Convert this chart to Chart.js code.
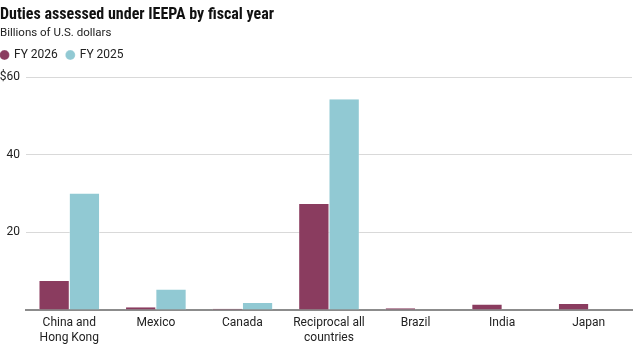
<!DOCTYPE html>
<html>
<head>
<meta charset="utf-8">
<script src="https://cdn.jsdelivr.net/npm/chart.js@4"></script>
<style>
  html, body { margin: 0; padding: 0; background: #fff; }
  #wrap { width: 640px; height: 347px; position: relative; }
</style>
</head>
<body>
<div id="wrap"><canvas id="chart"></canvas></div>
<script>
const categories = [
  ["China and", "Hong Kong"],
  "Mexico",
  "Canada",
  ["Reciprocal all", "countries"],
  "Brazil",
  "India",
  "Japan"
]
const fy2026 = [7.5, 0.7, 0.35, 27.3, 0.45, 1.4, 1.55]
const fy2025 = [30.0, 5.3, 1.8, 54.3, 0.1, 0.1, 0.1]
const yTicks = [0, 20, 40, 60]

const font = "Roboto, 'Noto Sans', sans-serif"
const titleFont = "'Liberation Sans Narrow', 'Roboto Condensed', 'DejaVu Sans Condensed', Roboto, sans-serif"

// легенда: чуть левее к краю и немного воздуха снизу
const legendTweak = {
  id: "legendTweak",
  beforeInit(chart) {
    const fit = chart.legend.fit
    chart.legend.fit = function () { fit.bind(this)(); this.height += 6 }
  },
  afterLayout(chart) {
    chart.legend.left -= 8
    chart.legend.right -= 8
  }
}

new Chart(document.getElementById("chart").getContext("2d"), {
  type: "bar",
  data: {
    labels: categories,
    datasets: [
      { label: "FY 2026", data: fy2026, backgroundColor: "#8a3c5f",
        borderColor: "#ffffff", borderWidth: { left: 0.5, right: 0.5 },
        barPercentage: 1, categoryPercentage: 0.7 },
      { label: "FY 2025", data: fy2025, backgroundColor: "#91c9d3",
        borderColor: "#ffffff", borderWidth: { left: 0.5, right: 0.5 },
        barPercentage: 1, categoryPercentage: 0.7 }
    ]
  },
  options: {
    responsive: true,
    maintainAspectRatio: false,
    animation: false,
    layout: { padding: { left: 0, right: 8, top: 3, bottom: 0 } },
    scales: {
      x: {
        afterFit: axis => { axis.height = 37 },
        grid: { display: false, drawTicks: false },
        border: { color: "#8c8c8c", width: 2 },
        ticks: { color: "#222", font: { family: font, size: 12, lineHeight: 1.25 }, padding: 5,
          maxRotation: 0, autoSkip: false }
      },
      y: {
        min: 0, max: 60,
        afterFit: axis => { axis.width = 26 },
        afterBuildTicks: axis => { axis.ticks = yTicks.map(v => ({ value: v })) },
        grid: { color: "#d9d9d9", lineWidth: 1, drawTicks: false },
        border: { display: false },
        ticks: {
          color: "#222", font: { family: font, size: 12 }, padding: 6,
          callback: v => v === 0 ? "" : (v === 60 ? "$60" : String(v))
        }
      }
    },
    plugins: {
      title: { display: true, text: "Duties assessed under IEEPA by fiscal year", align: "start",
        color: "#111", font: { family: titleFont, size: 16, weight: "bold" }, padding: { top: 2, bottom: 2 } },
      subtitle: { display: true, text: "Billions of U.S. dollars", align: "start",
        color: "#222", font: { family: font, size: 11.5 }, padding: { top: 0, bottom: 0 } },
      legend: {
        display: true, position: "top", align: "start",
        labels: { usePointStyle: true, pointStyle: "circle", boxWidth: 7, boxHeight: 7,
          color: "#222", font: { family: font, size: 12 }, padding: 9 }
      },
      tooltip: { enabled: false }
    }
  },
  plugins: [legendTweak]
})
</script>
</body>
</html>
